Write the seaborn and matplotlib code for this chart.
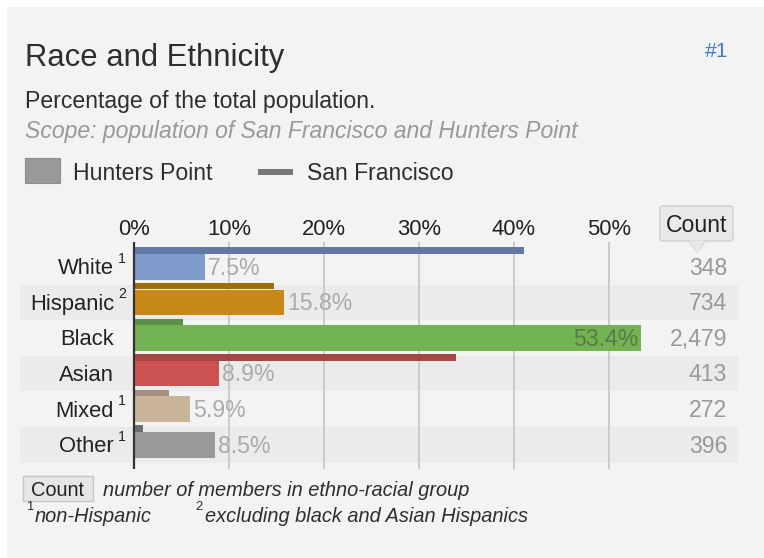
import matplotlib
matplotlib.use("Agg")
import matplotlib.pyplot as plt
import seaborn as sns
import pandas as pd
import numpy as np
from matplotlib.patches import Rectangle, FancyBboxPatch, Polygon

# ---------------- data ----------------
groups = ["White", "Hispanic", "Black", "Asian", "Mixed", "Other"]
superscripts = ["1", "2", "", "", "1", "1"]
hunters_point = [7.5, 15.8, 53.4, 8.9, 5.9, 8.5]
san_francisco = [41.1, 14.7, 5.2, 33.9, 3.7, 0.9]
counts = [348, 734, 2479, 413, 272, 396]
tick_values = [0, 10, 20, 30, 40, 50]
tick_labels = ["0%", "10%", "20%", "30%", "40%", "50%"]

hp_colors = ["#7e9bcc", "#c88a16", "#74b354", "#cc5252", "#c8b598", "#999999"]
sf_colors = ["#6478a5", "#a06c12", "#5b8f48", "#a84545", "#a39080", "#6e6e6e"]

title = "Race and Ethnicity"
subtitle = "Percentage of the total population."
scope = "Scope: population of San Francisco and Hunters Point"

sns.set_theme(style="white")
plt.rcParams["font.family"] = ["Liberation Sans", "DejaVu Sans"]

W, H = 764, 558
fig = plt.figure(figsize=(W / 100, H / 100), dpi=100, facecolor="white")


def X(px):
    return px / W


def Y(py):
    return 1 - py / H


def pt(px):
    return px * 0.72


# panel background
fig.patches.append(Rectangle((X(7), Y(558)), X(764) - X(7), Y(7) - Y(558),
                             transform=fig.transFigure, facecolor="#f3f3f3",
                             edgecolor="none", zorder=-5))

# header texts
fig.text(X(25), Y(66), title, fontsize=pt(31), color="#2e2e2e", va="baseline")
fig.text(X(728), Y(57), "#1", fontsize=pt(21), color="#3b7dc4", va="baseline", ha="right")
fig.text(X(25), Y(108), subtitle, fontsize=pt(23), color="#2e2e2e", va="baseline")
fig.text(X(25), Y(138), scope, fontsize=pt(23), color="#999999", va="baseline", style="italic")

# legend
fig.patches.append(Rectangle((X(25), Y(183)), X(60) - X(25), Y(158) - Y(183),
                             transform=fig.transFigure, facecolor="#999999",
                             edgecolor="#8c8c8c", lw=0.8, zorder=2))
fig.text(X(73), Y(180), "Hunters Point", fontsize=pt(23), color="#2e2e2e", va="baseline")
fig.patches.append(Rectangle((X(258), Y(175)), X(293) - X(258), Y(169) - Y(175),
                             transform=fig.transFigure, facecolor="#777777",
                             edgecolor="none", zorder=2))
fig.text(X(307), Y(180), "San Francisco", fontsize=pt(23), color="#2e2e2e", va="baseline")

# ---------------- main axes ----------------
left_px, right_px, top_px, bot_px = 20, 738, 242, 469
zero_px, px_per_unit = 134, 9.5
ax = fig.add_axes([X(left_px), Y(bot_px), X(right_px) - X(left_px), Y(top_px) - Y(bot_px)])
ax.set_zorder(1)
ax.set_facecolor("none")
ax.patch.set_alpha(0)

df = pd.DataFrame({"group": groups, "hp": hunters_point, "sf": san_francisco})

# alternating row bands
for i in range(len(groups)):
    if i % 2 == 1:
        ax.axhspan(i - 0.5, i + 0.5, color="#ebebeb", zorder=0, lw=0)

sns.barplot(data=df, x="hp", y="group", hue="group", palette=hp_colors,
            orient="h", width=0.72, ax=ax, legend=False, zorder=3,
            edgecolor="none", saturation=1)
ax.barh(np.arange(len(groups)) - 0.455, df["sf"], height=0.18,
        color=sf_colors, zorder=3, lw=0)

ax.set_xlim((left_px - zero_px) / px_per_unit, (right_px - zero_px) / px_per_unit)
row_px = 35.6
ax.set_ylim(5 + (bot_px - 444.8) / row_px, -(266.8 - top_px) / row_px)

# grid lines & zero axis
for t in tick_values[1:]:
    ax.axvline(t, color="#c8c8c8", lw=1.3, zorder=1)
ax.axvline(0, color="#333333", lw=1.6, zorder=4)

# top tick labels
ax.xaxis.set_ticks_position("top")
ax.set_xticks(tick_values, tick_labels)
ax.tick_params(axis="x", length=0, pad=1.5, labelsize=pt(22), labelcolor="#222222")
ax.set_yticks([])
ax.set_xlabel("")
ax.set_ylabel("")
for s in ax.spines.values():
    s.set_visible(False)

# category labels
lab_x = (114 - zero_px) / px_per_unit
sup_x = (118 - zero_px) / px_per_unit
for i, (g, s) in enumerate(zip(groups, superscripts)):
    ax.text(lab_x, i + 0.21, g, ha="right", va="baseline", fontsize=pt(22),
            color="#222222", zorder=5, clip_on=False)
    if s:
        ax.text(sup_x, i - 0.11, s, ha="left", va="baseline", fontsize=pt(14),
                color="#222222", zorder=5, clip_on=False)

# value labels
off = 3 / px_per_unit
for i, v in enumerate(hunters_point):
    txt = f"{v:.1f}%"
    if v > 45:
        ax.text(v - off, i + 0.22, txt, ha="right", va="baseline", fontsize=pt(23),
                color="#587a4a", zorder=5)
    else:
        ax.text(v + off, i + 0.22, txt, ha="left", va="baseline", fontsize=pt(23),
                color="#aaaaaa", zorder=5)

# counts
cnt_x = (727 - zero_px) / px_per_unit
for i, c in enumerate(counts):
    ax.text(cnt_x, i + 0.22, f"{c:,}", ha="right", va="baseline", fontsize=pt(23),
            color="#999999", zorder=5)

# Count header box with pointer
fig.patches.append(FancyBboxPatch((X(660), Y(241)), X(733) - X(660), Y(206) - Y(241),
                                  boxstyle="round,pad=0,rounding_size=0.004",
                                  transform=fig.transFigure, facecolor="#e9e9e9",
                                  edgecolor="#cfcfcf", lw=1.0, zorder=2))
fig.patches.append(Polygon([(X(689), Y(240.5)), (X(705), Y(240.5)), (X(697), Y(252))],
                           closed=True, transform=fig.transFigure, facecolor="#e9e9e9",
                           edgecolor="none", zorder=3))
fig.lines.append(plt.Line2D([X(689), X(697), X(705)], [Y(241), Y(252), Y(241)],
                            transform=fig.transFigure, color="#cfcfcf", lw=1.0, zorder=3))
fig.text(X(697), Y(232), "Count", fontsize=pt(23), color="#222222",
         ha="center", va="baseline", zorder=4)

# footer
fig.patches.append(Rectangle((X(23), Y(501)), X(93) - X(23), Y(476) - Y(501),
                             transform=fig.transFigure, facecolor="#e6e6e6",
                             edgecolor="#c5c5c5", lw=1.0, zorder=2))
fig.text(X(58), Y(496), "Count", fontsize=pt(20), color="#222222", ha="center",
         va="baseline", zorder=3)
fig.text(X(103), Y(496), "number of members in ethno-racial group", fontsize=pt(20),
         color="#2e2e2e", style="italic", va="baseline")
fig.text(X(26), Y(510), "1", fontsize=pt(13), color="#2e2e2e", va="baseline")
fig.text(X(35), Y(522), "non-Hispanic", fontsize=pt(20), color="#2e2e2e",
         style="italic", va="baseline")
fig.text(X(195), Y(510), "2", fontsize=pt(13), color="#2e2e2e", va="baseline")
fig.text(X(205), Y(522), "excluding black and Asian Hispanics", fontsize=pt(20),
         color="#2e2e2e", style="italic", va="baseline")

fig.savefig("out.png", dpi=100, facecolor="white")
